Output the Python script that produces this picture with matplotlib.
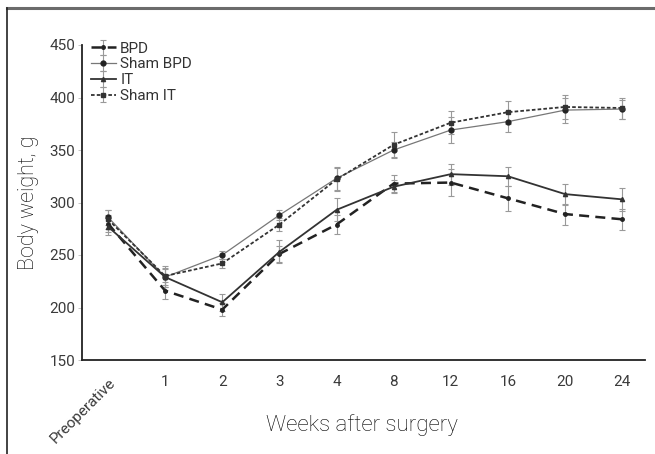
import matplotlib
matplotlib.use("Agg")
import matplotlib.pyplot as plt
from matplotlib.lines import Line2D

plt.rcParams["font.family"] = ["Roboto", "DejaVu Sans"]

LABEL_COLOR = "#000000"

# Time points (weeks after surgery)
categories = ["Preoperative", "1", "2", "3", "4", "8", "12", "16", "20", "24"]

# Mean body weight (g) per group
bpd = [280, 216, 198, 251, 279, 318, 319, 304, 289, 284]
sham_bpd = [286, 229, 250, 288, 323, 350, 369, 377, 388, 389]
it = [277, 229, 205, 253, 293, 315, 327, 325, 308, 303]
sham_it = [284, 230, 242, 279, 322, 355, 376, 386, 391, 390]

# Error bar half-widths (g)
bpd_err = [8, 8, 6, 8, 9, 8, 13, 12, 10, 10]
sham_bpd_err = [7, 8, 4, 5, 11, 8, 12, 10, 12, 9]
it_err = [8, 9, 8, 11, 11, 6, 10, 9, 10, 11]
sham_it_err = [9, 10, 4, 6, 11, 12, 11, 11, 11, 10]

fig = plt.figure(figsize=(6.55, 4.54), dpi=100)
fig.patch.set_facecolor("white")

# Frame lines around the figure (top and left edges)
fig.add_artist(Line2D([7 / 655, 1.0], [1 - 8 / 454, 1 - 8 / 454],
                      transform=fig.transFigure, color="#6b6b6b", lw=2.2))
fig.add_artist(Line2D([7 / 655, 7 / 655], [0.0, 1 - 8 / 454],
                      transform=fig.transFigure, color="#222222", lw=1.2))

ax = fig.add_axes([82 / 655, 1 - 360 / 454, (645 - 82) / 655, (360 - 45) / 454])

x = list(range(len(categories)))
err_kw = dict(ecolor="#999999", elinewidth=0.8, capsize=2, capthick=0.8)

ax.errorbar(x, bpd, yerr=bpd_err, color="#222222", lw=1.8, ls=(0, (4, 2.5)),
            marker="o", ms=2.5, label="BPD", **err_kw)
ax.errorbar(x, sham_bpd, yerr=sham_bpd_err, color="#777777", lw=0.9, ls="-",
            marker="o", ms=3.5, mfc="#222222", mec="#222222", label="Sham BPD", **err_kw)
ax.errorbar(x, it, yerr=it_err, color="#333333", lw=1.3, ls="-",
            marker="^", ms=3, label="IT", **err_kw)
ax.errorbar(x, sham_it, yerr=sham_it_err, color="#333333", lw=1.3, ls=(0, (2, 1.2)),
            marker="s", ms=3, label="Sham IT", **err_kw)

ax.set_xlim(-0.455, 9.4)
ax.set_ylim(150, 450)
ax.set_yticks([150, 200, 250, 300, 350, 400, 450])
ax.set_xticks(x)
ax.set_xticklabels(categories)
for lbl in ax.get_xticklabels():
    if lbl.get_text() == "Preoperative":
        lbl.set_rotation(45)
        lbl.set_ha("right")
        lbl.set_va("top")
        lbl.set_rotation_mode("anchor")
        lbl.set_fontsize(10.5)

ax.spines["top"].set_visible(False)
ax.spines["right"].set_visible(False)
ax.spines["left"].set_color("#222222")
ax.spines["bottom"].set_color("#222222")
ax.spines["left"].set_linewidth(1.3)
ax.spines["bottom"].set_linewidth(1.3)

ax.tick_params(axis="y", length=3, width=0.6, color="#bbbbbb",
               labelsize=11, labelcolor="#3a3a3a", pad=2)
ax.tick_params(axis="x", length=0, labelsize=11, labelcolor="#3a3a3a", pad=11)

ax.set_ylabel("Body weight, g", fontsize=15.5, fontweight="light",
              color=LABEL_COLOR, labelpad=7)
fig.text(362 / 655, 1 - 425 / 454, "Weeks after surgery", fontsize=16,
         fontweight="light", color=LABEL_COLOR, ha="center", va="center")

leg = ax.legend(loc="upper left", bbox_to_anchor=(0.0, 1.04), frameon=False,
                fontsize=11, handlelength=1.6, handletextpad=0.3,
                labelspacing=0.12, borderaxespad=0.2)
for t in leg.get_texts():
    t.set_color("#333333")

fig.savefig("out.png", dpi=100)
